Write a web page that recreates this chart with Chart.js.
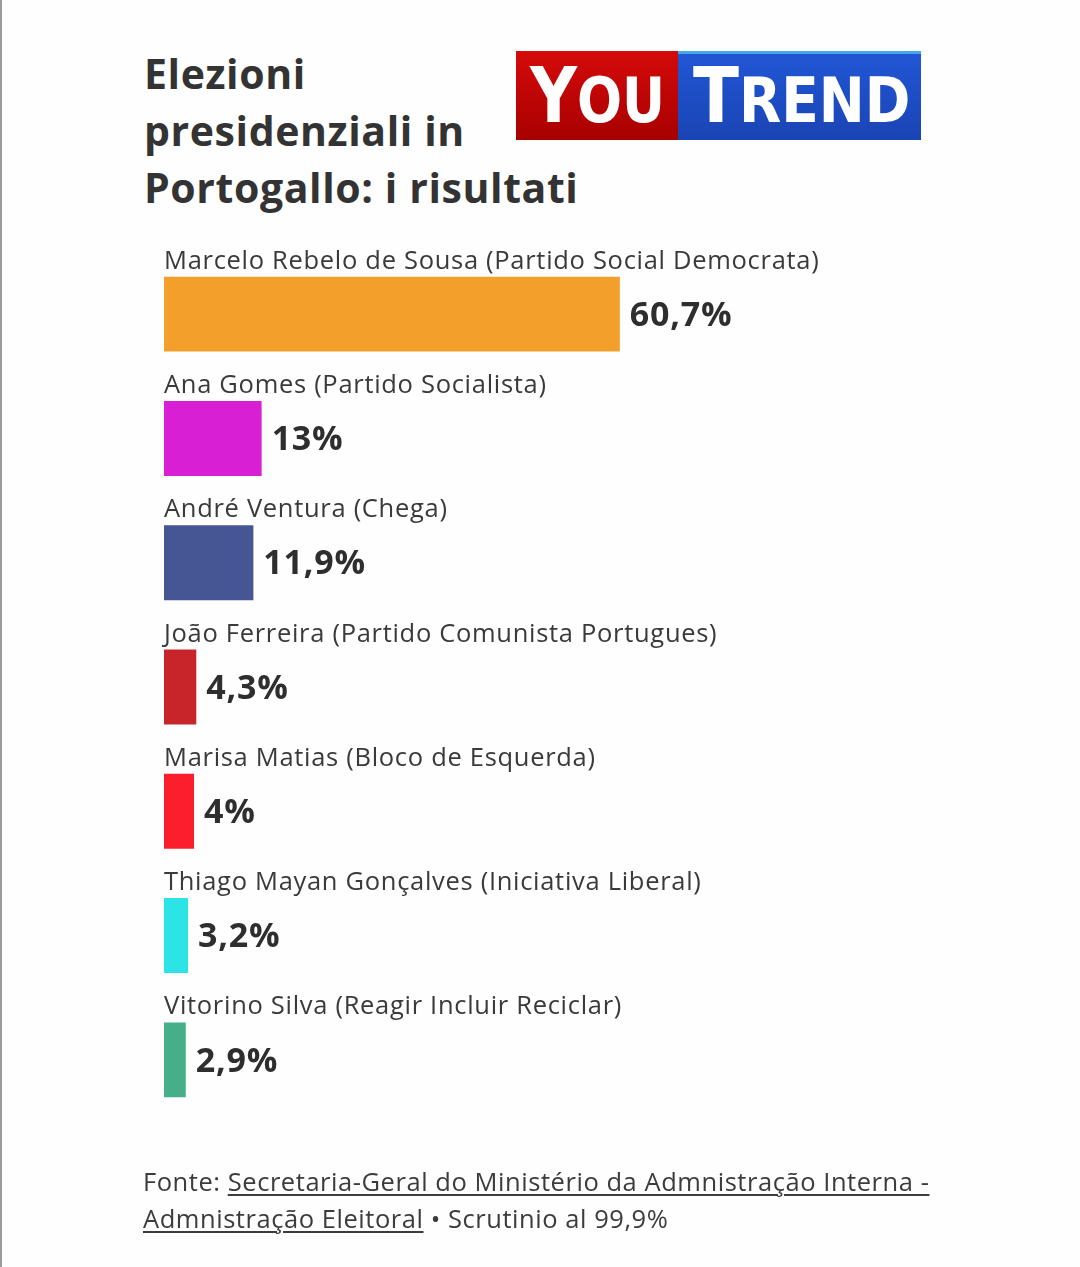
<!DOCTYPE html>
<html>
<head>
<meta charset="utf-8">
<script src="https://cdn.jsdelivr.net/npm/chart.js@4/dist/chart.umd.min.js"></script>
<style>
  html, body { margin: 0; padding: 0; }
  body { width: 1080px; height: 1267px; background: #fefefe; position: relative; overflow: hidden; font-family: "Open Sans", Lato, sans-serif; }
  #border { position: absolute; left: 0; top: 0; width: 2px; height: 1267px; background: #9a9a9a; }
  #title { position: absolute; left: 144px; top: 45px; font-weight: 700; font-size: 41px; line-height: 57px; color: #333; letter-spacing: 0.6px; }
  #logo { position: absolute; left: 516px; top: 51px; width: 405px; height: 89px; }
  #logo .red { position: absolute; left: 0; top: 0; width: 162px; height: 89px; background: linear-gradient(#d40a0a, #a80000); }
  #logo .blue { position: absolute; left: 162px; top: 0; width: 243px; height: 89px; background: linear-gradient(#2156d4, #1a44b4); border-top: 3px solid #45a8ef; box-sizing: border-box; }
  #logo .txt { position: absolute; top: 0; height: 89px; color: #fff; font-family: "DejaVu Sans Condensed", "DejaVu Sans", sans-serif; font-weight: 700; white-space: nowrap; line-height: 89px; }
  #logo .big { font-size: 76px; }
  #logo .sm { font-size: 62px; }
  #chartwrap { position: absolute; left: 0; top: 0; width: 1080px; height: 1267px; }
  #footer { position: absolute; left: 143px; top: 1163px; font-size: 25.5px; line-height: 37px; color: #3c3c3c; letter-spacing: 0.55px; }
  #footer u { text-decoration: underline; text-underline-offset: 3px; text-decoration-thickness: 1.5px; }
</style>
</head>
<body>
<div id="border"></div>
<div id="title">Elezioni<br>presidenziali in<br>Portogallo: i risultati</div>
<div id="logo">
  <div class="red"></div>
  <div class="blue"></div>
  <div class="txt" style="left:14px; transform-origin:left; transform:scaleX(0.95)"><span class="big">Y</span><span class="sm">OU</span></div>
  <div class="txt" style="left:177px; transform-origin:left; transform:scaleX(0.985)"><span class="big">T</span><span class="sm">REND</span></div>
</div>
<div id="chartwrap"><canvas id="c"></canvas></div>
<div id="footer">Fonte: <u>Secretaria-Geral do Ministério da Admnistração Interna -<br>Admnistração Eleitoral</u> • Scrutinio al 99,9%</div>
<script>
const categories = [
  "Marcelo Rebelo de Sousa (Partido Social Democrata)",
  "Ana Gomes (Partido Socialista)",
  "André Ventura (Chega)",
  "João Ferreira (Partido Comunista Portugues)",
  "Marisa Matias (Bloco de Esquerda)",
  "Thiago Mayan Gonçalves (Iniciativa Liberal)",
  "Vitorino Silva (Reagir Incluir Reciclar)"
];
const values = [60.7, 13, 11.9, 4.3, 4, 3.2, 2.9];
const valueLabels = ["60,7%", "13%", "11,9%", "4,3%", "4%", "3,2%", "2,9%"];
const barColors = ["#f29f2b", "#d81fd3", "#465594", "#c8252b", "#fb1f2e", "#2ce3e6", "#47ae8a"];

const labelPlugin = {
  id: 'barLabels',
  afterDatasetsDraw(chart) {
    const ctx = chart.ctx;
    const meta = chart.getDatasetMeta(0);
    ctx.save();
    meta.data.forEach((bar, i) => {
      const top = bar.y - bar.height / 2;
      ctx.font = '25.5px "Open Sans", Lato, sans-serif';
      ctx.letterSpacing = '0.7px';
      ctx.fillStyle = '#3a3a3a';
      ctx.textAlign = 'left';
      ctx.textBaseline = 'alphabetic';
      ctx.fillText(categories[i], chart.chartArea.left, top - 8);
      ctx.font = 'bold 34px "Open Sans", Lato, sans-serif';
      ctx.letterSpacing = '0.8px';
      ctx.fillStyle = '#2e2e2e';
      ctx.textBaseline = 'middle';
      ctx.fillText(valueLabels[i], bar.x + 10, bar.y + 2);
    });
    ctx.restore();
  }
};

new Chart(document.getElementById('c'), {
  type: 'bar',
  data: {
    labels: categories,
    datasets: [{
      data: values,
      backgroundColor: barColors,
      borderWidth: 0,
      barPercentage: 0.603,
      categoryPercentage: 1
    }]
  },
  options: {
    indexAxis: 'y',
    responsive: true,
    maintainAspectRatio: false,
    animation: false,
    layout: { padding: { left: 164, right: 165, top: 252, bottom: 145 } },
    scales: {
      x: { display: false, min: 0, max: 100 },
      y: { display: false }
    },
    plugins: { legend: { display: false }, tooltip: { enabled: false } }
  },
  plugins: [labelPlugin]
});
</script>
</body>
</html>
